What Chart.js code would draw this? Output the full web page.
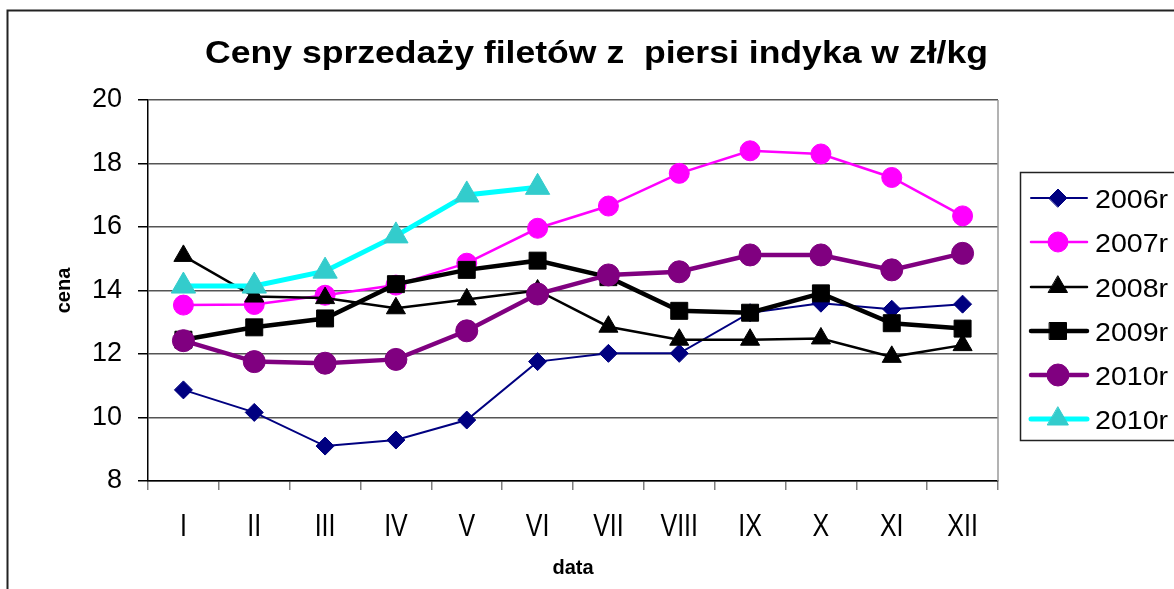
<!DOCTYPE html>
<html>
<head>
<meta charset="utf-8">
<script src="https://cdn.jsdelivr.net/npm/chart.js@4/dist/chart.umd.min.js"></script>
<style>
html,body{margin:0;padding:0;background:#fff;}
canvas{display:block;}
</style>
</head>
<body>
<canvas id="c" width="1174" height="589"></canvas>
<script>
const titleText = "Ceny sprzedaży filetów z  piersi indyka w zł/kg";
const months = ["I","II","III","IV","V","VI","VII","VIII","IX","X","XI","XII"];
const seriesNames = ["2006r","2007r","2008r","2009r","2010r","2010r"];
const y2006 = [10.87, 10.16, 9.1, 9.29, 9.92, 11.76, 12.02, 12.02, 13.3, 13.6, 13.41, 13.57];
const y2007 = [13.54, 13.56, 13.85, 14.17, 14.86, 15.96, 16.66, 17.69, 18.4, 18.3, 17.56, 16.35];
const y2008 = [15.09, 13.81, 13.76, 13.44, 13.72, 14.0, 12.86, 12.45, 12.45, 12.49, 11.91, 12.28];
const y2009 = [12.45, 12.84, 13.12, 14.2, 14.65, 14.94, 14.42, 13.36, 13.3, 13.91, 12.97, 12.8];
const y2010 = [12.42, 11.76, 11.71, 11.83, 12.73, 13.89, 14.49, 14.59, 15.12, 15.12, 14.65, 15.17];
const y2010b = [14.14, 14.14, 14.61, 15.72, 17.01, 17.25, null, null, null, null, null, null];
const yTicks = [8, 10, 12, 14, 16, 18, 20];

function ds(label, data, line, fill, lw, style, r, order) {
  return {
    label, data, borderColor: line, backgroundColor: fill,
    pointBackgroundColor: fill, pointBorderColor: fill, pointBorderWidth: 1,
    borderWidth: lw, pointStyle: style, pointRadius: r, pointHoverRadius: r,
    tension: 0, spanGaps: false, order
  };
}

const datasets = [
  ds(seriesNames[0], y2006, '#000080', '#000080', 2, 'rectRot', 9, 6),
  ds(seriesNames[1], y2007, '#FF00FF', '#FF00FF', 2.5, 'circle', 10, 5),
  ds(seriesNames[2], y2008, '#000000', '#000000', 2.5, 'triangle', 11, 4),
  ds(seriesNames[3], y2009, '#000000', '#000000', 4.5, 'rect', 12, 3),
  ds(seriesNames[4], y2010, '#800080', '#800080', 4.5, 'circle', 11, 2),
  ds(seriesNames[5], y2010b, '#00FFFF', '#33CCCC', 5, 'triangle', 14, 1)
];

function drawScaledText(ctx, text, x, y, sx, align) {
  const w = ctx.measureText(text).width * sx;
  let left = x;
  if (align === 'center') left = x - w / 2;
  else if (align === 'right') left = x - w;
  ctx.save();
  ctx.translate(left, y);
  ctx.scale(sx, 1);
  ctx.textAlign = 'left';
  ctx.fillText(text, 0, 0);
  ctx.restore();
}

const decor = {
  id: 'decor',
  beforeDraw(chart) {
    const ctx = chart.ctx;
    ctx.save();
    ctx.fillStyle = '#fff';
    ctx.fillRect(0, 0, chart.width, chart.height);
    ctx.restore();
  },
  afterDraw(chart) {
    const ctx = chart.ctx;
    const ca = chart.chartArea;
    ctx.save();
    // plot area right border
    ctx.strokeStyle = '#9a9a9a';
    ctx.lineWidth = 1.5;
    ctx.beginPath();
    ctx.moveTo(ca.right, ca.top);
    ctx.lineTo(ca.right, ca.bottom);
    ctx.stroke();
    // outer chart border
    ctx.strokeStyle = '#222';
    ctx.lineWidth = 2;
    ctx.beginPath();
    ctx.moveTo(7.5, chart.height);
    ctx.lineTo(7.5, 10.5);
    ctx.lineTo(chart.width, 10.5);
    ctx.stroke();
    // title
    ctx.font = 'bold 31px "Liberation Sans", Arial, sans-serif';
    ctx.fillStyle = '#000';
    ctx.textBaseline = 'alphabetic';
    const w = ctx.measureText(titleText).width;
    drawScaledText(ctx, titleText, 205, 63, 783 / w, 'left');
    // x category labels (narrow, as in the original)
    const xs = chart.scales.x;
    ctx.font = '32px "Liberation Sans", Arial, sans-serif';
    ctx.textBaseline = 'alphabetic';
    chart.data.labels.forEach((lab, i) => {
      drawScaledText(ctx, lab, xs.getPixelForTick(i), 536, 0.78, 'center');
    });
    // legend
    ctx.strokeStyle = '#222';
    ctx.lineWidth = 1.5;
    ctx.strokeRect(1020.5, 172.5, 200, 268);
    const ys = [198, 242, 287, 331, 375, 419];
    chart.data.datasets.forEach((d, i) => {
      const y = ys[i];
      ctx.strokeStyle = d.borderColor;
      ctx.lineWidth = d.borderWidth;
      ctx.lineCap = 'round';
      ctx.beginPath();
      ctx.moveTo(1031, y);
      ctx.lineTo(1087, y);
      ctx.stroke();
      ctx.fillStyle = d.pointBackgroundColor;
      ctx.strokeStyle = d.pointBorderColor;
      ctx.lineWidth = 1;
      let r = d.pointRadius;
      if (d.pointStyle === 'triangle') r = Math.min(r, 12);
      Chart.helpers.drawPoint(ctx, {pointStyle: d.pointStyle, radius: r, rotation: 0, borderWidth: 1}, 1058, y);
      ctx.fillStyle = '#000';
      ctx.font = '26px "Liberation Sans", Arial, sans-serif';
      ctx.textBaseline = 'alphabetic';
      drawScaledText(ctx, d.label, 1095, y + 9.5, 1.1, 'left');
    });
    ctx.restore();
  }
};

new Chart(document.getElementById('c'), {
  type: 'line',
  data: { labels: months, datasets },
  options: {
    responsive: false,
    animation: false,
    devicePixelRatio: 1,
    layout: { padding: { left: 0, right: 176, top: 100, bottom: 0 } },
    plugins: { legend: { display: false }, title: { display: false }, tooltip: { enabled: false } },
    elements: { line: { tension: 0 } },
    scales: {
      x: {
        type: 'category',
        offset: true,
        grid: { display: true, drawOnChartArea: false, drawTicks: true, tickLength: 9, color: '#808080', lineWidth: 1.5, offset: true },
        border: { display: true, color: '#000', width: 1.5 },
        ticks: { display: false, autoSkip: false },
        title: { display: true, text: 'data', color: '#000', font: { family: '"Liberation Sans", Arial', size: 20, weight: 'bold' }, padding: { top: 0, bottom: 9 } },
        afterFit(s) { s.height = 108; }
      },
      y: {
        min: 8, max: 20,
        afterBuildTicks(s) { s.ticks = yTicks.map(v => ({ value: v })); },
        grid: { color: '#555', lineWidth: 1.5, drawTicks: true, tickLength: 10, tickColor: '#000' },
        border: { display: true, color: '#000', width: 1.5 },
        ticks: { color: '#000', padding: 16, font: { family: '"Liberation Sans", Arial', size: 27 } },
        title: { display: true, text: 'cena', color: '#000', font: { family: '"Liberation Sans", Arial', size: 20, weight: 'bold' }, padding: { top: 52, bottom: 0 } },
        afterFit(s) { s.width = 148; }
      }
    }
  },
  plugins: [decor]
});
</script>
</body>
</html>
